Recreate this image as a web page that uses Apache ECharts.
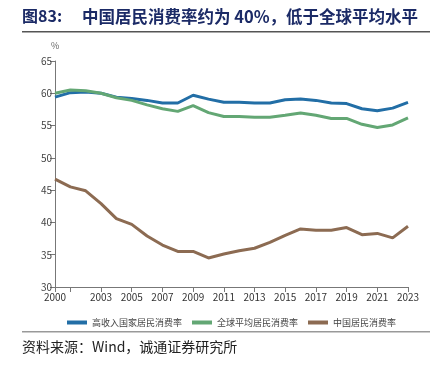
<!DOCTYPE html>
<html>
<head>
<meta charset="utf-8">
<script src="https://cdn.jsdelivr.net/npm/echarts@6/dist/echarts.min.js"></script>
<style>
html, body { margin: 0; padding: 0; background: #fff; }
#chart { width: 442px; height: 367px; }
</style>
</head>
<body>
<div id="chart"></div>
<script>
// 年份
var years = [];
for (var y = 2000; y <= 2023; y++) years.push(String(y));

// 高收入国家居民消费率
var highIncome = [59.4, 60.1, 60.2, 60.0, 59.4, 59.2, 58.9, 58.5, 58.5, 59.7, 59.1, 58.6,
                  58.6, 58.5, 58.5, 59.0, 59.1, 58.9, 58.5, 58.4, 57.6, 57.3, 57.7, 58.6];
// 全球平均居民消费率
var worldAvg = [60.0, 60.5, 60.4, 60.0, 59.3, 58.9, 58.2, 57.6, 57.2, 58.1, 57.0, 56.4,
                56.4, 56.3, 56.3, 56.6, 56.95, 56.6, 56.1, 56.1, 55.2, 54.7, 55.1, 56.2];
// 中国居民消费率
var china = [46.7, 45.5, 44.9, 42.9, 40.6, 39.7, 37.9, 36.5, 35.5, 35.5, 34.5, 35.1,
             35.6, 36.0, 36.9, 38.0, 39.0, 38.8, 38.8, 39.2, 38.1, 38.3, 37.6, 39.4];

var names = ['高收入国家居民消费率', '全球平均居民消费率', '中国居民消费率'];
var colors = ['#226ea6', '#63a774', '#8c6b52'];

var myChart = echarts.init(document.getElementById('chart'));

var option = {
    animation: false,
    color: colors,
    textStyle: { fontFamily: 'Noto Sans CJK SC' },
    grid: { left: 55, right: 34, top: 61, bottom: 80 },
    graphic: [
        { type: 'text', left: 22, top: 8,
          style: { text: '图83:', fill: '#1b2a66', font: 'bold 16px "Noto Sans CJK SC"' } },
        { type: 'text', left: 82, top: 8,
          style: { text: '中国居民消费率约为 40%，低于全球平均水平', fill: '#1b2a66', font: 'bold 16.5px "Noto Sans CJK SC"' } },
        { type: 'rect', shape: { x: 22, y: 31, width: 408, height: 1.5 }, style: { fill: '#555' } },
        { type: 'rect', shape: { x: 22, y: 331, width: 408, height: 1.5 }, style: { fill: '#999' } },
        { type: 'text', left: 22, top: 340,
          style: { text: '资料来源：Wind，诚通证券研究所', fill: '#222', font: '14px "Noto Sans CJK SC"' } },
        { type: 'text', left: 51, top: 41,
          style: { text: '%', fill: '#666', font: '9px "Noto Sans CJK SC"' } }
    ],
    legend: {
        data: names,
        top: 313,
        left: 62,
        itemWidth: 20,
        itemHeight: 4,
        itemGap: 10,
        icon: 'rect',
        textStyle: { fontSize: 9, color: '#444' }
    },
    xAxis: {
        type: 'category',
        data: years,
        boundaryGap: false,
        axisLine: { lineStyle: { color: '#777' } },
        axisTick: { interval: function (i) { return i === 0 || i % 2 === 1; }, length: 5, lineStyle: { color: '#777' } },
        axisLabel: { interval: function (i) { return i === 0 || (i % 2 === 1 && i >= 3); },
                     color: '#333', fontSize: 10, margin: 5 },
        splitLine: { show: false }
    },
    yAxis: {
        type: 'value',
        min: 30,
        max: 65,
        interval: 5,
        axisLine: { show: true, lineStyle: { color: '#777' } },
        axisTick: { show: true, length: 5, lineStyle: { color: '#777' } },
        axisLabel: { color: '#444', fontSize: 10, margin: 3 },
        splitLine: { show: false }
    },
    series: [
        { name: names[0], type: 'line', data: highIncome, symbol: 'none', lineStyle: { width: 3 } },
        { name: names[1], type: 'line', data: worldAvg, symbol: 'none', lineStyle: { width: 3 } },
        { name: names[2], type: 'line', data: china, symbol: 'none', lineStyle: { width: 3 } }
    ]
};
myChart.setOption(option);
</script>
</body>
</html>
